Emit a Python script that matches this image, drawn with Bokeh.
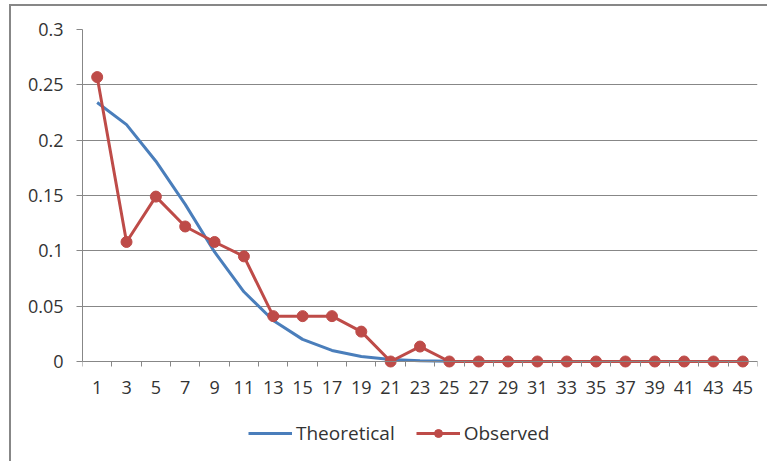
from bokeh.plotting import figure
from bokeh.models import FixedTicker, Legend, LegendItem, Range1d, ColumnDataSource
from bokeh.embed import file_html
from bokeh.resources import INLINE

# ---- data ----
x_values = [1, 3, 5, 7, 9, 11, 13, 15, 17, 19, 21, 23, 25, 27, 29, 31, 33, 35, 37, 39, 41, 43, 45]
x_tick_labels = [str(v) for v in x_values]
theoretical = [0.234, 0.214, 0.181, 0.142, 0.099, 0.063, 0.037, 0.020, 0.010, 0.0045, 0.0018,
               0.0007, 0.0002, 0.0001, 0.0, 0.0, 0.0, 0.0, 0.0, 0.0, 0.0, 0.0, 0.0]
observed = [0.257, 0.108, 0.149, 0.122, 0.108, 0.095, 0.041, 0.041, 0.041, 0.027, 0.0,
            0.0135, 0.0, 0.0, 0.0, 0.0, 0.0, 0.0, 0.0, 0.0, 0.0, 0.0, 0.0]
y_ticks = [0, 0.05, 0.1, 0.15, 0.2, 0.25, 0.3]
y_tick_labels = ["0", "0.05", "0.1", "0.15", "0.2", "0.25", "0.3"]

src = ColumnDataSource(dict(x=x_values, theo=theoretical, obs=observed))

FONT = "Open Sans"
TXT = "#333333"
GRID = "#878787"
BLUE = "#4A7EBB"
RED = "#BE4B48"

# layout (pixels): plot area 675 x 332 px for 0..0.3; frame extends below the
# x axis down to the bottom so that the legend sits inside the frame
FRAME_H = 434
Y_TOP = 0.3
Y_BOTTOM = Y_TOP - FRAME_H * Y_TOP / 332.0

p = figure(width=758, height=457, output_backend="svg", toolbar_location=None,
           x_range=Range1d(0, 46), y_range=Range1d(Y_BOTTOM, Y_TOP),
           min_border_left=71, min_border_right=12, min_border_top=23, min_border_bottom=0)
p.outline_line_color = None
p.background_fill_color = "white"
p.border_fill_color = "white"
p.styles = {"border-left": "2px solid #878787", "border-top": "2px solid #878787",
            "margin-left": "9px", "margin-top": "4px"}

# x axis: labels at category centres, ticks at boundaries (minor), fixed at y=0
boundaries = [v - 1 for v in x_values] + [x_values[-1] + 1]
xa = p.xaxis[0]
xa.fixed_location = 0
xa.ticker = FixedTicker(ticks=x_values, minor_ticks=boundaries)
xa.major_label_overrides = {v: l for v, l in zip(x_values, x_tick_labels)}
xa.major_tick_out = 0
xa.major_tick_in = 0
xa.minor_tick_out = 5
xa.minor_tick_in = 0
xa.minor_tick_line_color = GRID
xa.axis_line_color = GRID
xa.major_label_text_font = FONT
xa.major_label_text_font_size = "18px"
xa.major_label_text_color = TXT
xa.major_label_standoff = 14

ya = p.yaxis[0]
ya.bounds = (0, Y_TOP)
ya.ticker = FixedTicker(ticks=y_ticks)
ya.major_label_overrides = {v: l for v, l in zip(y_ticks, y_tick_labels)}
ya.major_tick_out = 6
ya.major_tick_in = 0
ya.minor_tick_line_color = None
ya.major_tick_line_color = GRID
ya.axis_line_color = GRID
ya.major_label_text_font = FONT
ya.major_label_text_font_size = "18px"
ya.major_label_text_color = TXT
ya.major_label_standoff = 13

p.xgrid.grid_line_color = None
p.ygrid.ticker = FixedTicker(ticks=y_ticks)
p.ygrid.grid_line_color = GRID
p.ygrid.grid_line_width = 1

r_theo = p.line("x", "theo", source=src, line_color=BLUE, line_width=3)
r_obs = p.line("x", "obs", source=src, line_color=RED, line_width=3)
r_obs_pts = p.scatter("x", "obs", source=src, size=11, fill_color=RED, line_color=RED)

legend = Legend(items=[LegendItem(label="Theoretical", renderers=[r_theo]),
                       LegendItem(label="Observed", renderers=[r_obs, r_obs_pts])],
                orientation="horizontal", location=(166, 17),
                glyph_width=44, glyph_height=20, label_standoff=4, spacing=21,
                padding=0, margin=0, border_line_color=None, background_fill_alpha=0,
                label_text_font=FONT, label_text_font_size="19px", label_text_color=TXT)
p.add_layout(legend, "center")

open("out.html", "w").write(file_html(p, INLINE))
